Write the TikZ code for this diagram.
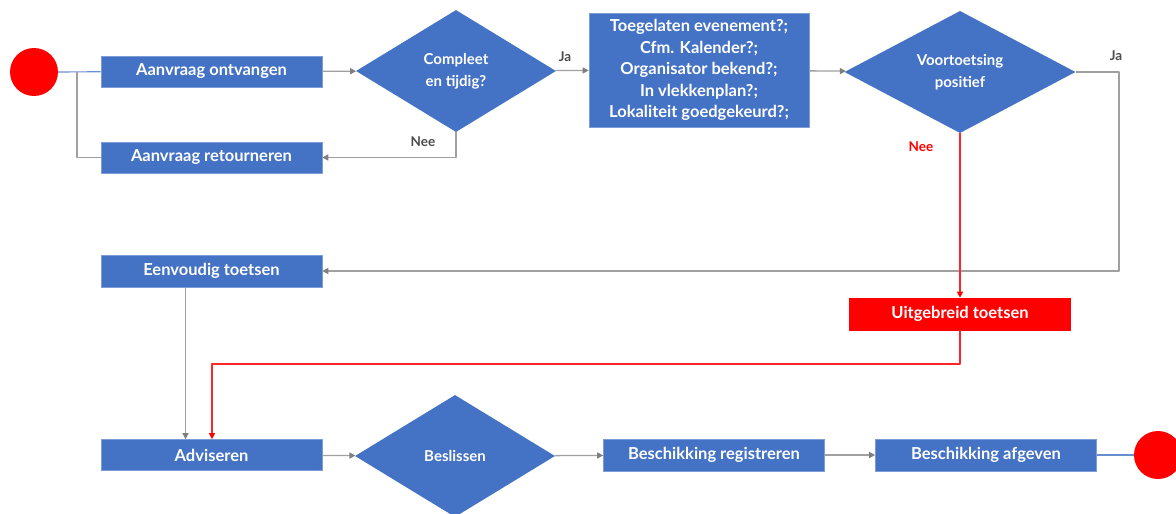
\documentclass[tikz,border=0pt]{standalone}
\usepackage{fontspec}
\setmainfont{Lato}
\usetikzlibrary{shapes.geometric,arrows.meta}
\definecolor{boxblue}{HTML}{4472C4}
\definecolor{linegray}{HTML}{A0A0A0}
\definecolor{tipgray}{HTML}{7F7F7F}
\definecolor{stopred}{HTML}{FF0000}
\tikzset{
  stepbox/.style={rectangle, fill=boxblue, draw=boxblue!70!white, line width=0.6pt, text=white, minimum width=221pt, minimum height=31pt, inner sep=0pt, font=\fontsize{16.5}{18}\selectfont\bfseries},
  redbox/.style={stepbox, fill=stopred, draw=stopred},
  choice/.style={diamond, fill=boxblue, text=white, inner sep=0pt, align=center, font=\fontsize{15}{22}\selectfont\bfseries},
  endpoint/.style={circle, fill=stopred, minimum size=48pt, inner sep=0pt},
  flow/.style={draw=linegray, line width=1.3pt},
  arrow/.style={flow, -{Triangle[length=6pt,width=6pt,color=tipgray,fill=tipgray]}},
  redarrow/.style={draw=stopred!85!white, line width=1.1pt, -{Triangle[length=6pt,width=6pt,color=stopred,fill=stopred]}},
  blueline/.style={draw=boxblue!80!white, line width=1.2pt},
  answer/.style={font=\fontsize{13.5}{15}\selectfont\bfseries, text=black!70}
}
\begin{document}
\begin{tikzpicture}[x=1pt,y=-1pt,line join=round]
	\useasboundingbox (0,0) rectangle (1176,514);
	
	% bovenste rij
	\node[endpoint] (start) at (34,72) {};
	\node[stepbox] (ontv) at (211.5,71.5) {Aanvraag ontvangen};
	\node[stepbox] (retour) at (211.5,157.5) {Aanvraag retourneren};
	\node[choice, minimum width=200pt, minimum height=122pt] (compl) at (456,71) {Compleet\\en tijdig?};
	\node[stepbox, minimum width=220pt, minimum height=114pt, align=center, font=\fontsize{16.5}{21.5}\selectfont\bfseries] (checks) at (699,70)
		{Toegelaten evenement?;\\Cfm. Kalender?;\\Organisator bekend?;\\In vlekkenplan?;\\Lokaliteit goedgekeurd?;};
	\node[choice, minimum width=231pt, minimum height=121pt] (voort) at (960,72) {Voortoetsing\\positief};
	
	% middelste rij
	\node[stepbox, minimum height=32pt] (eenv) at (211.5,271) {Eenvoudig toetsen};
	\node[redbox, minimum height=32pt] (uitg) at (960,314) {Uitgebreid toetsen};
	
	% onderste rij
	\node[stepbox] (advis) at (211.5,455) {Adviseren};
	\node[choice, minimum width=200pt, minimum height=122pt] (besl) at (455,456) {Beslissen};
	\node[stepbox, minimum height=32pt] (registr) at (714,455) {Beschikking registreren};
	\node[stepbox, minimum height=32pt] (afgev) at (986,455) {Beschikking afgeven};
	\node[endpoint] (stop) at (1158,455) {};
	
	\coordinate (split) at (77,72);
	\coordinate (jaturn) at (1119,72);
	\coordinate (redturn) at (212,364);
	
	\draw[blueline] (start) -- (ontv);
	\draw[flow] (split) |- (retour.west);
	\draw[arrow] (ontv) -- (compl);
	\draw[arrow] (compl) -- (checks);
	\draw[arrow] (compl.south) |- (retour.east);
	\draw[arrow] (checks) -- (voort);
	\draw[arrow] (voort.east) -- (jaturn) |- (eenv.east);
	\draw[redarrow] (voort.south) -- (uitg.north);
	\draw[redarrow] (uitg.south) |- (redturn) -- (redturn |- advis.north);
	\draw[arrow] ([xshift=-26pt]eenv.south) -- ([xshift=-26pt]advis.north);
	\draw[arrow] (advis) -- (besl);
	\draw[arrow] (besl) -- (registr);
	\draw[arrow] (registr) -- (afgev);
	\draw[blueline] (afgev) -- (stop);
	
	% labels bij de keuzes
	\node[answer] (jacompl) at (565,57) {Ja};
	\node[answer] (neecompl) at (423,142) {Nee};
	\node[answer] (javoort) at (1116,56) {Ja};
	\node[answer, text=stopred] (neevoort) at (921,147) {Nee};
\end{tikzpicture}
\end{document}
